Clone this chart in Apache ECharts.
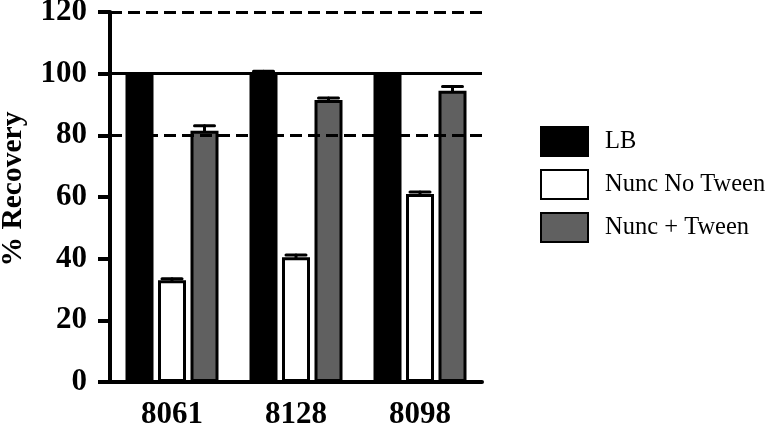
<!DOCTYPE html>
<html>
<head>
<meta charset="utf-8">
<script src="https://cdn.jsdelivr.net/npm/echarts@6/dist/echarts.min.js"></script>
<style>
  html, body { margin: 0; padding: 0; background: #fff; }
  #chart { width: 767px; height: 426px; }
</style>
</head>
<body>
<div id="chart"></div>
<script>
  const categories = ['8061', '8128', '8098'];
  const seriesNames = ['LB', 'Nunc No Tween', 'Nunc + Tween'];
  const lbValues = [100, 100, 100];
  const lbErrors = [0, 0.8, 0];
  const noTweenValues = [33, 40.5, 61];
  const noTweenErrors = [0.5, 0.7, 0.6];
  const tweenValues = [81.5, 91.5, 94.5];
  const tweenErrors = [1.6, 0.6, 1.3];
  const refLines = [120, 100, 80];

  const barW = 28;
  const gapPx = 4.5;
  const font = 'Liberation Serif';

  const values = [lbValues, noTweenValues, tweenValues];
  const errors = [lbErrors, noTweenErrors, tweenErrors];
  const fills = ['#000000', '#ffffff', '#606060'];

  const chart = echarts.init(document.getElementById('chart'));

  const barSeries = seriesNames.map((name, i) => ({
    name: name,
    type: 'bar',
    data: values[i],
    barWidth: barW,
    barGap: (gapPx / barW * 100) + '%',
    itemStyle: {
      color: fills[i],
      borderColor: '#000',
      borderWidth: 3
    }
  }));

  const errorSeries = seriesNames.map((name, i) => ({
    type: 'custom',
    silent: true,
    z: 4,
    data: values[i].map((v, k) => [k, v, errors[i][k]]),
    renderItem: (params, api) => {
      const off = (i - 1) * (barW + gapPx);
      const base = api.coord([api.value(0), api.value(1)]);
      const top = api.coord([api.value(0), api.value(1) + api.value(2)]);
      const x = base[0] + off;
      const half = 10;
      const style = { stroke: '#000', lineWidth: 3, lineCap: 'round' };
      return {
        type: 'group',
        children: [
          { type: 'line', shape: { x1: x, y1: base[1], x2: x, y2: top[1] }, style: style },
          { type: 'line', shape: { x1: x - half, y1: top[1], x2: x + half, y2: top[1] }, style: style }
        ]
      };
    }
  }));

  chart.setOption({
    animation: false,
    grid: { left: 110, right: 285, top: 12, bottom: 44, outerBoundsMode: 'none' },
    legend: {
      orient: 'vertical',
      left: 535,
      top: 121,
      icon: 'rect',
      itemWidth: 47,
      itemHeight: 29,
      itemGap: 12,
      data: seriesNames,
      textStyle: { fontFamily: font, fontSize: 24.5, color: '#000', padding: [0, 0, 0, 12] }
    },
    xAxis: {
      type: 'category',
      data: categories,
      axisLine: { lineStyle: { color: '#000', width: 4 } },
      axisTick: { alignWithLabel: true, length: 10, lineStyle: { width: 4, color: '#000' } },
      axisLabel: { fontFamily: font, fontWeight: 'bold', fontSize: 31, color: '#000', margin: 17 }
    },
    yAxis: {
      type: 'value',
      min: 0,
      max: 120,
      interval: 20,
      name: '% Recovery',
      nameLocation: 'middle',
      nameRotate: 90,
      nameGap: 82,
      nameTextStyle: { fontFamily: font, fontWeight: 'bold', fontSize: 29.5, color: '#000', padding: [0, 0, 0, 16] },
      axisLine: { show: true, lineStyle: { color: '#000', width: 4 } },
      axisTick: { show: true, length: 12, lineStyle: { width: 4, color: '#000' } },
      axisLabel: { fontFamily: font, fontWeight: 'bold', fontSize: 31, color: '#000', margin: 23 },
      splitLine: { show: false }
    },
    series: barSeries.concat(errorSeries, [{
      type: 'line',
      data: [],
      z: 5,
      markLine: {
        silent: true,
        symbol: 'none',
        label: { show: false },
        data: refLines.map(v => ({
          yAxis: v,
          lineStyle: { color: '#000', width: 3, type: v === 100 ? 'solid' : [12, 6] }
        }))
      }
    }])
  });
</script>
</body>
</html>
